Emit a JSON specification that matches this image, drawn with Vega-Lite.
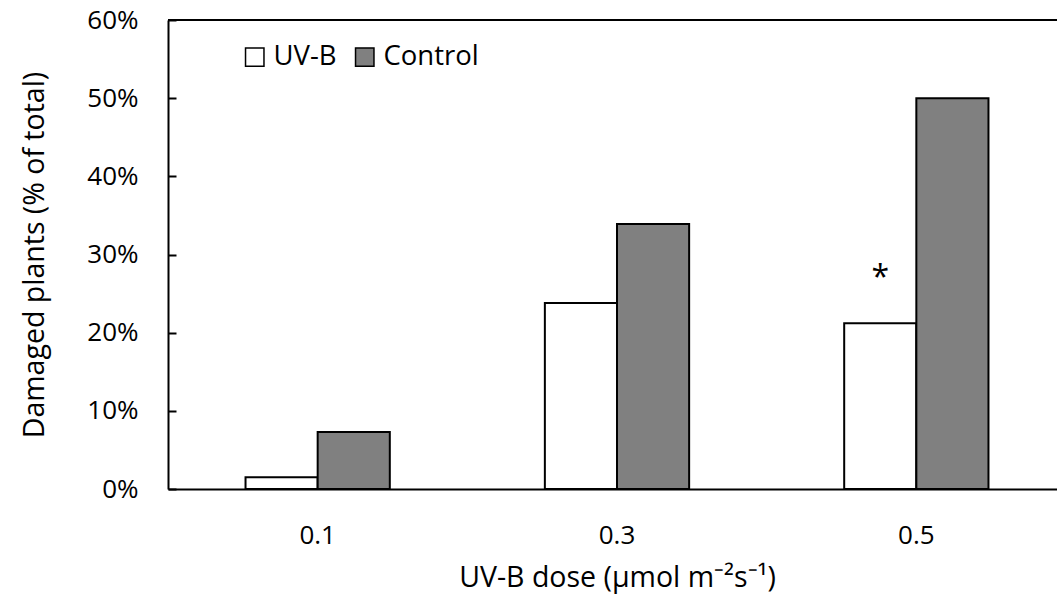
{
  "$schema": "https://vega.github.io/schema/vega-lite/v6.json",
  "width": 889,
  "height": 469,
  "autosize": {"type": "none"},
  "padding": {"left": 168, "top": 20, "right": 0, "bottom": 110},
  "background": "white",
  "config": {
    "view": {"stroke": null},
    "font": "Open Sans",
    "axis": {"labelFont": "Open Sans", "titleFont": "Open Sans", "labelColor": "black", "titleColor": "black", "titleFontWeight": "normal"}
  },
  "data": {
    "values": [
      {"dose": "0.1", "group": "UV-B", "value": 0.015, "sig": ""},
      {"dose": "0.1", "group": "Control", "value": 0.073, "sig": ""},
      {"dose": "0.3", "group": "UV-B", "value": 0.238, "sig": ""},
      {"dose": "0.3", "group": "Control", "value": 0.339, "sig": ""},
      {"dose": "0.5", "group": "UV-B", "value": 0.212, "sig": "*"},
      {"dose": "0.5", "group": "Control", "value": 0.50, "sig": ""}
    ]
  },
  "encoding": {
    "x": {
      "field": "dose", "type": "nominal", "sort": ["0.1", "0.3", "0.5"],
      "scale": {"range": [0, 898], "paddingInner": 0.518, "paddingOuter": 0.259},
      "axis": {
        "title": "UV-B dose (µmol m⁻²s⁻¹)",
        "labelAngle": 0, "ticks": false, "labelPadding": 33, "labelFontSize": 26,
        "titleFontSize": 28.5, "titlePadding": 15,
        "domainColor": "black", "domainWidth": 2
      }
    },
    "y": {
      "field": "value", "type": "quantitative",
      "scale": {"domain": [0, 0.6], "nice": false},
      "axis": {
        "title": "Damaged plants (% of total)",
        "values": [0, 0.1, 0.2, 0.3, 0.4, 0.5, 0.6],
        "format": ".0%", "grid": false,
        "labelFontSize": 26, "titleFontSize": 28.5,
        "tickSize": -8, "tickWidth": 2, "tickColor": "black",
        "domainColor": "black", "domainWidth": 2,
        "labelPadding": 38, "titlePadding": 37
      }
    }
  },
  "layer": [
    {
      "mark": {"type": "bar", "stroke": "black", "strokeWidth": 2},
      "encoding": {
        "xOffset": {"field": "group", "type": "nominal", "sort": ["UV-B", "Control"], "scale": {"paddingInner": 0, "paddingOuter": 0}},
        "fill": {
          "field": "group", "type": "nominal",
          "scale": {"domain": ["UV-B", "Control"], "range": ["white", "#808080"]},
          "legend": {
            "title": null, "orient": "none", "legendX": 73, "legendY": 23,
            "direction": "horizontal", "symbolType": "square", "symbolSize": 340,
            "symbolStrokeColor": "black", "symbolStrokeWidth": 1.5,
            "labelFontSize": 27.5, "labelFont": "Open Sans", "labelColor": "black",
            "columnPadding": 14, "labelOffset": 5
          }
        }
      }
    },
    {
      "transform": [{"filter": "datum.sig != ''"}],
      "mark": {"type": "text", "fontSize": 32, "baseline": "bottom", "dy": -28, "font": "Open Sans", "color": "black"},
      "encoding": {
        "xOffset": {"field": "group", "type": "nominal", "sort": ["UV-B", "Control"], "scale": {"paddingInner": 0, "paddingOuter": 0}},
        "text": {"field": "sig"}
      }
    },
    {
      "mark": {"type": "rule", "color": "black", "strokeWidth": 2},
      "encoding": {"y": {"datum": 0.6}, "x": null}
    }
  ]
}
